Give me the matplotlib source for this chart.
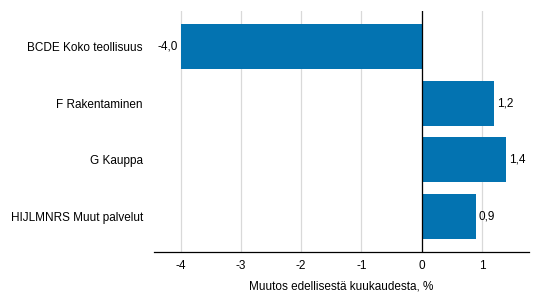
import matplotlib
matplotlib.use('Agg')
import matplotlib.pyplot as plt

categories = ['BCDE Koko teollisuus', 'F Rakentaminen', 'G Kauppa', 'HIJLMNRS Muut palvelut']
values = [-4.0, 1.2, 1.4, 0.9]
xticks = [-4, -3, -2, -1, 0, 1]

plt.rcParams['font.family'] = ['Liberation Sans', 'DejaVu Sans']

fig = plt.figure(figsize=(5.4, 3.04), dpi=100)
ax = fig.add_axes([154/540, 1-252/304, (529-154)/540, (252-11)/304])

pos = list(range(len(categories)))
ax.barh(pos, values, height=0.8, color='#0373b1', zorder=2)
ax.set_ylim(3.63, -0.63)
ax.set_xlim(-4.44, 1.78)

for p, v in zip(pos, values):
    txt = f'{v:.1f}'.replace('.', ',')
    if v < 0:
        ax.text(v - 0.05, p, txt, ha='right', va='center', fontsize=8.5, color='#000000')
    else:
        ax.text(v + 0.05, p, txt, ha='left', va='center', fontsize=8.5, color='#000000')

ax.axvline(0, color='#000000', lw=0.9, zorder=3)
ax.set_xticks(xticks)
ax.set_xticklabels([str(t) for t in xticks], fontsize=8.5)
ax.set_yticks(pos)
ax.set_yticklabels(categories, fontsize=8.5)
ax.tick_params(axis='x', length=0, pad=6)
ax.tick_params(axis='y', length=0, pad=8)
ax.grid(axis='x', color='#d9d9d9', lw=0.9, zorder=0)
for s in ['top', 'right', 'left']:
    ax.spines[s].set_visible(False)
ax.spines['bottom'].set_color('#000000')
ax.spines['bottom'].set_linewidth(0.9)
ax.set_xlabel('Muutos edellisestä kuukaudesta, %', fontsize=8.5, labelpad=6)

fig.savefig('out.png', dpi=100, facecolor='white')
